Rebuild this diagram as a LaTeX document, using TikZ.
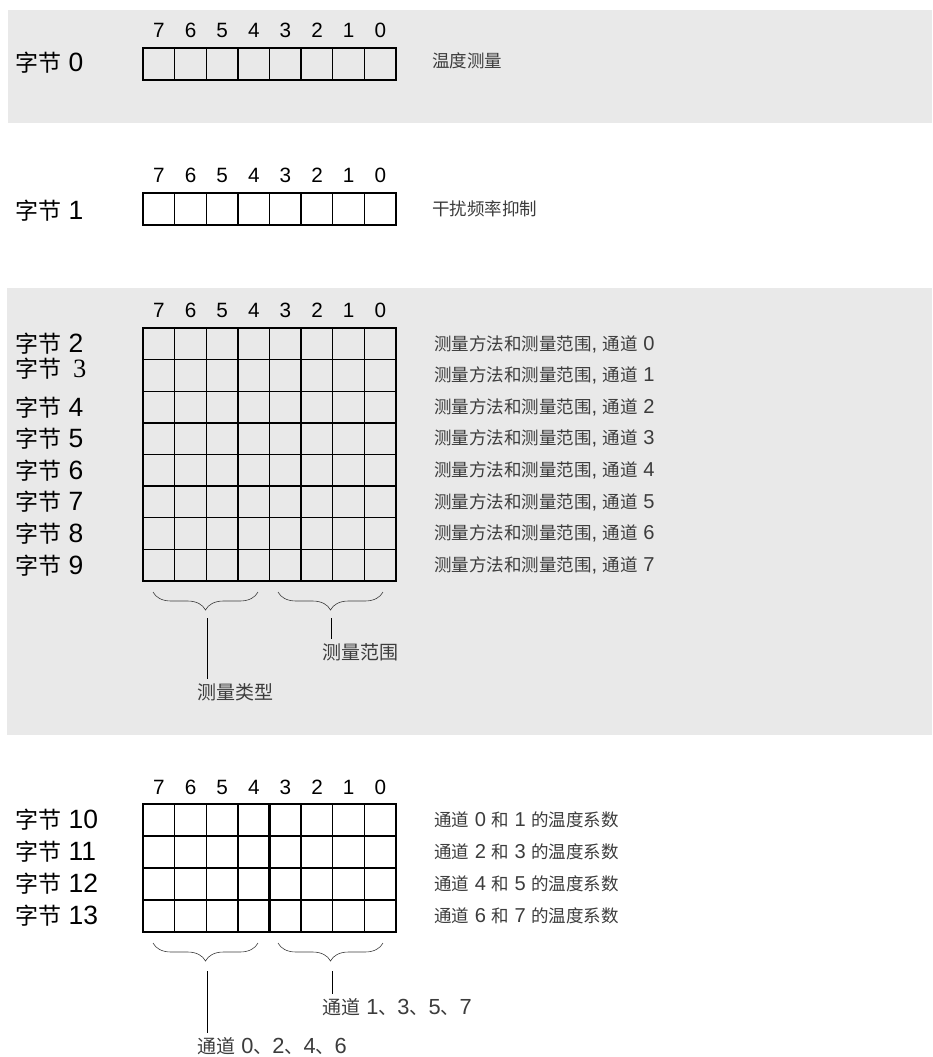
\documentclass[tikz,border=0pt]{standalone}
\usepackage{fontspec}
\setmainfont{Liberation Sans}[Scale=1.15]
\newfontfamily\cjk{Noto Sans CJK SC}
\newfontfamily\serifnum{Liberation Serif}[Scale=1.15]
\usetikzlibrary{decorations.pathreplacing}
\definecolor{panelgray}{RGB}{233,233,233}
\definecolor{textgray}{RGB}{60,60,60}

\begin{document}
\begin{tikzpicture}[x=1pt,y=-1pt,
  bytelabel/.style={anchor=west,inner sep=0pt,font=\fontsize{23}{23}\selectfont},
  bitnum/.style={inner sep=0pt,font=\fontsize{18}{18}\selectfont},
  desc/.style={anchor=west,inner sep=0pt,text=textgray,font=\fontsize{17.5}{17.5}\selectfont},
  note/.style={anchor=west,inner sep=0pt,text=textgray,font=\fontsize{19}{19}\selectfont},
  cell/.style={line width=1.3pt},
  bracket/.style={decorate,decoration={brace,mirror,amplitude=18pt},line width=0.6pt,draw=textgray},
  leader/.style={line width=1pt,shorten >=4pt}]
\useasboundingbox (0,0) rectangle (932,1057);

% gray panels
\fill[panelgray] (8,10) rectangle (932,123);
\fill[panelgray] (7,288) rectangle (932,735);

% bit numbers over each register
\foreach \top/\sec in {30/a,175/b,310/c,787/d}
  \foreach \b [count=\i from 0] in {7,6,5,4,3,2,1,0}
    \node[bitnum] (\sec\b) at (159+31.625*\i,\top) {\b};

% byte 0 and byte 1
\foreach \top in {48,193} {
  \draw[cell] (143,\top) rectangle (396,\top+32);
  \foreach \i in {1,...,7} \draw[cell] (143+31.625*\i,\top) -- ++(0,32);
}
\node[bytelabel] (byte0) at (15,63) {{\cjk 字节} 0};
\node[desc] (temp) at (432,61) {\cjk 温度测量};
\node[bytelabel] (byte1) at (15,211) {{\cjk 字节} 1};
\node[desc] (noise) at (432,209) {\cjk 干扰频率抑制};

% bytes 2 to 9
\draw[cell] (143,328) rectangle (396,581);
\foreach \i in {1,...,7} {
  \draw[cell] (143+31.625*\i,328) -- ++(0,253);
  \draw[cell] (143,328+31.625*\i) -- ++(253,0);
}
\node[bytelabel] (byte2) at (15,344) {{\cjk 字节} 2};
\node[bytelabel] (byte3) at (15,369) {{\cjk 字节}\hspace{0.45em}{\serifnum 3}};
\foreach \n in {4,...,9}
  \node[bytelabel] (byte\n) at (15,344+31.625*\n-63.25) {{\cjk 字节} \n};
\foreach \c in {0,...,7}
  \node[desc] (mode\c) at (434,344+31.625*\c) {{\cjk 测量方法和测量范围}, {\cjk 通道} \c};

\draw[bracket] (153,592) -- (258,592);
\draw[bracket] (278,592) -- (383,592);
\coordinate (typetip) at (207,618);
\coordinate (rangetip) at (331,618);
\node[note] (mtype) at (197,692) {\cjk 测量类型};
\node[note] (mrange) at (322,652) {\cjk 测量范围};
\draw[leader] (typetip) -- (typetip |- mtype.north);
\draw[leader] (rangetip) -- (rangetip |- mrange.north);

% bytes 10 to 13
\draw[cell] (143,804) rectangle (396,932);
\foreach \i in {1,...,7} \draw[cell] (143+31.625*\i,804) -- ++(0,128);
\foreach \i in {1,...,3} \draw[cell] (143,804+32*\i) -- ++(253,0);
\draw[line width=2.8pt] (269.5,804) -- (269.5,932);
\foreach \n/\a/\b [count=\r from 0] in {10/0/1,11/2/3,12/4/5,13/6/7} {
  \node[bytelabel] (byte\n) at (15,820+32*\r) {{\cjk 字节} \n};
  \node[desc] (coef\n) at (434,820+32*\r) {{\cjk 通道} \a{} {\cjk 和} \b{} {\cjk 的温度系数}};
}

\draw[bracket] (153,943) -- (258,943);
\draw[bracket] (278,943) -- (383,943);
\coordinate (eventip) at (207,971);
\coordinate (oddtip) at (332,971);
\node[note] (evench) at (197,1046) {{\cjk 通道} 0{\cjk 、}2{\cjk 、}4{\cjk 、}6};
\node[note] (oddch) at (322,1007) {{\cjk 通道} 1{\cjk 、}3{\cjk 、}5{\cjk 、}7};
\draw[leader] (eventip) -- (eventip |- evench.north);
\draw[leader] (oddtip) -- (oddtip |- oddch.north);
\end{tikzpicture}
\end{document}
